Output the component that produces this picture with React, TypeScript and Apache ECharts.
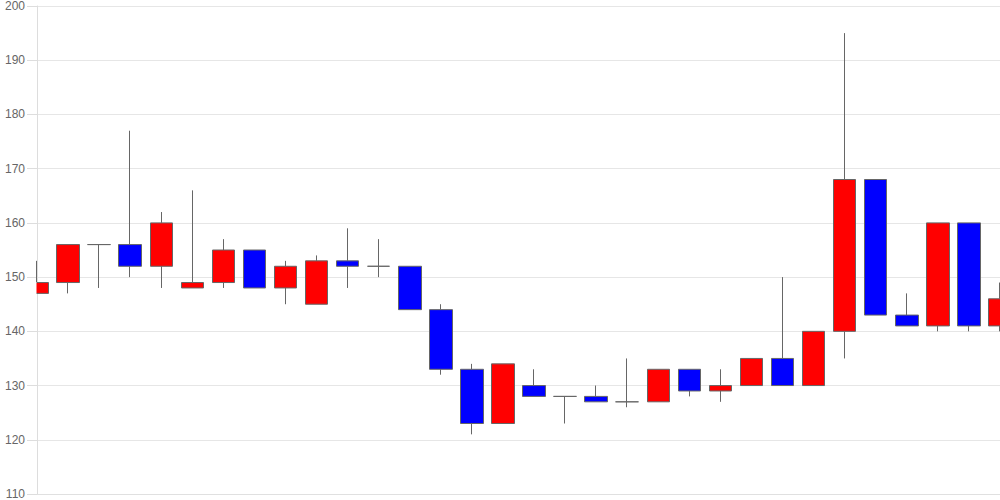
import React, { useEffect, useRef } from "react";
import * as echarts from "echarts";

const categories: string[] = Array.from({ length: 32 }, (_, i) => String(i + 1));

// [open, close, low, high]
const opens: number[] = [147, 149, 156, 156, 152, 148, 149, 155, 148, 145, 153, 152, 152, 144, 133, 123, 130, 128, 128, 127, 127, 133, 129, 130, 135, 130, 140, 168, 143, 141, 160, 141];
const closes: number[] = [149, 156, 156, 152, 160, 149, 155, 148, 152, 153, 152, 152, 144, 133, 123, 134, 128, 128, 127, 127, 133, 129, 130, 135, 130, 140, 168, 143, 141, 160, 141, 146];
const lows: number[] = [147, 147, 148, 150, 148, 148, 148, 148, 145, 145, 148, 150, 144, 132, 121, 123, 128, 123, 127, 126, 127, 128, 127, 130, 130, 130, 135, 143, 141, 140, 140, 140];
const highs: number[] = [153, 156, 156, 177, 162, 166, 157, 155, 153, 154, 159, 157, 152, 145, 134, 134, 133, 128, 130, 135, 133, 133, 133, 135, 150, 140, 195, 168, 147, 160, 160, 149];

const yTicks = { min: 110, max: 200, interval: 10 };

export default function App() {
  const ref = useRef<HTMLDivElement>(null);
  useEffect(() => {
    if (!ref.current) return;
    const chart = echarts.init(ref.current, undefined, { renderer: "svg" });
    const data = opens.map((o, i) => [o, closes[i], lows[i], highs[i]]);
    chart.setOption({
      animation: false,
      grid: { left: 37, right: 0, top: 6, bottom: 6 },
      xAxis: {
        type: "category",
        data: categories,
        boundaryGap: false,
        axisLine: { show: true, lineStyle: { color: "#e0e0e0" } },
        axisTick: { show: false },
        axisLabel: { show: false },
        splitLine: { show: false },
      },
      yAxis: {
        type: "value",
        min: yTicks.min,
        max: yTicks.max,
        interval: yTicks.interval,
        axisLine: { show: true, lineStyle: { color: "#dddddd" } },
        axisTick: { show: true, length: 10, lineStyle: { color: "#dddddd" } },
        axisLabel: {
          color: "#666666",
          fontSize: 12,
          fontFamily: "Liberation Sans, Arial, sans-serif",
          margin: 12,
        },
        splitLine: { show: true, lineStyle: { color: "#e6e6e6" } },
      },
      graphic: [
        {
          type: "rect",
          z: 100,
          shape: { x: 0, y: 282, width: 36.5, height: 14 },
          style: { fill: "#ffffff" },
        },
      ],
      series: [
        {
          type: "candlestick",
          data,
          barWidth: 23,
          clip: true,
          itemStyle: {
            color: "#ff0000",
            color0: "#0000ff",
            borderColor: "#666666",
            borderColor0: "#666666",
            borderWidth: 1,
          },
        },
      ],
    });
    return () => chart.dispose();
  }, []);
  return <div ref={ref} style={{ width: 1000, height: 500, position: "absolute", left: 0, top: 0 }} />;
}
